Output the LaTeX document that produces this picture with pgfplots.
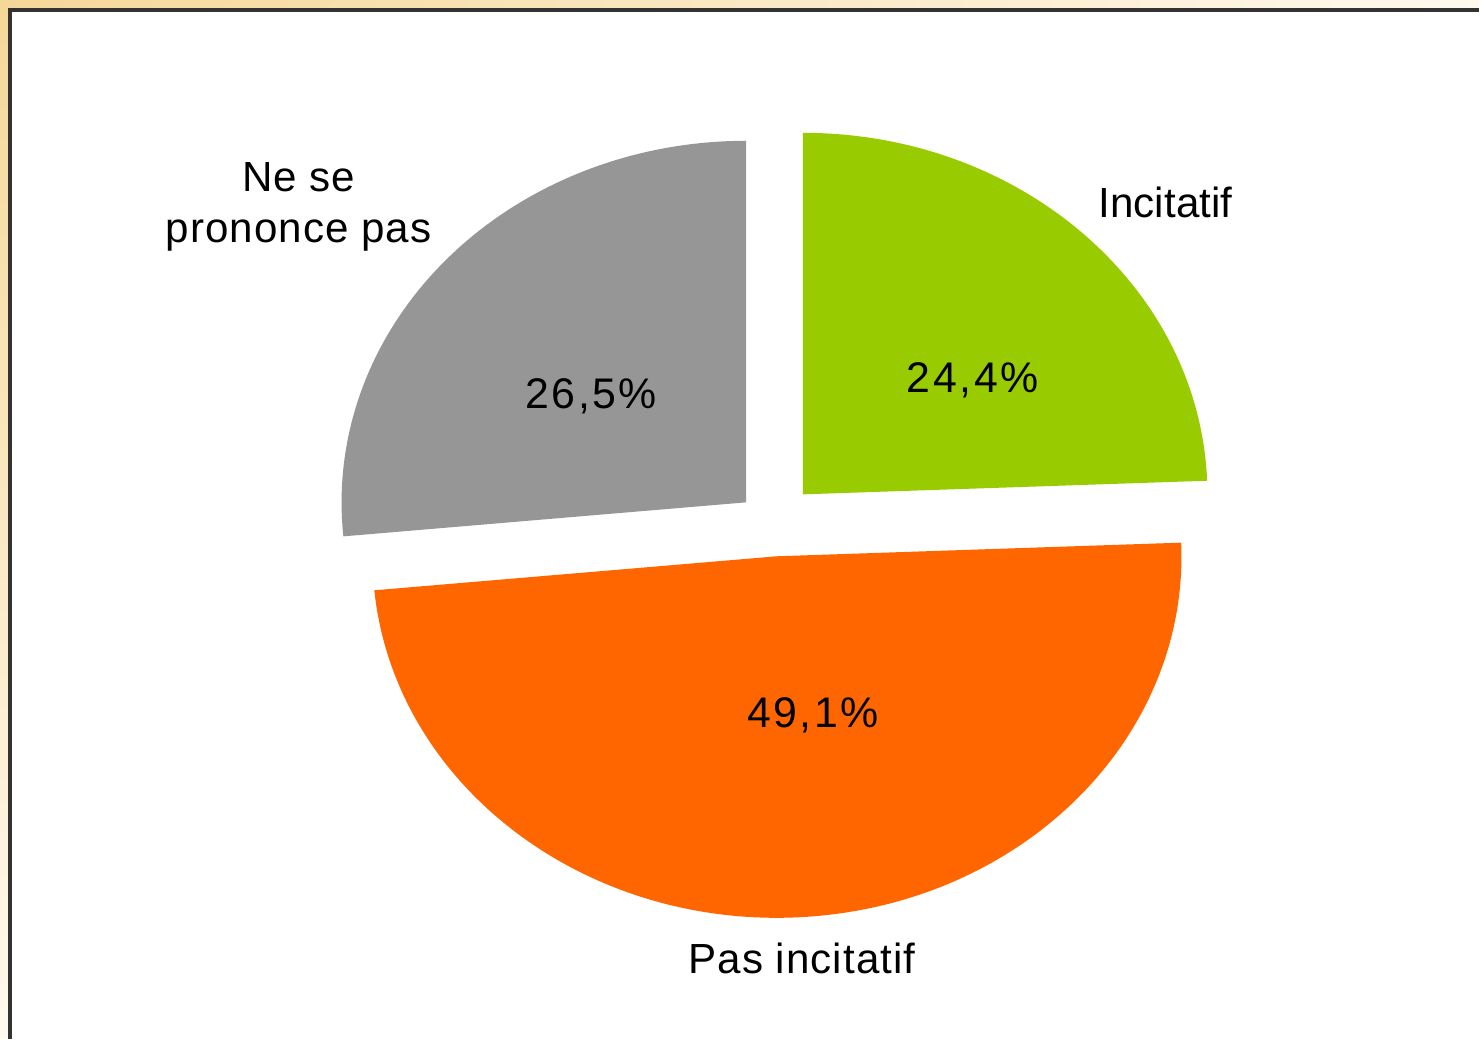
\documentclass[border=0pt]{standalone}
\usepackage{pgfplots}
\pgfplotsset{compat=1.18}
\usetikzlibrary{shadings}
\usepackage{fontspec}
\setmainfont{Liberation Sans}
\newfontfamily\spaced[LetterSpace=2.5]{Liberation Sans}
\newfontfamily\spacedN[LetterSpace=6]{Liberation Sans}
\definecolor{cgray}{HTML}{969696}
\definecolor{cgreen}{HTML}{99CC00}
\definecolor{corange}{HTML}{FF6600}
\definecolor{beigeA}{HTML}{F5D898}
\definecolor{beigeB}{HTML}{FFF9EE}
\definecolor{frame}{HTML}{333333}
% slice values (percent)
\def\vNSP{26.5}
\def\vPas{49.1}
\def\vInc{24.4}
\begin{document}
\begin{tikzpicture}
\begin{axis}[
  width=14.81cm, height=10.40cm, scale only axis,
  xmin=0, xmax=1481, ymin=0, ymax=1040, y dir=reverse,
  enlargelimits=false, hide axis, clip=false,
]
% background and frame
\shade[upper left=beigeA, upper right=beigeB, lower left=beigeB, lower right=white]
  (axis cs:0,0) rectangle (axis cs:1481,1040);
\fill[white] (axis cs:10,10) rectangle (axis cs:1481,1040);
\draw[frame, line width=1.1pt] (axis cs:10,1040) -- (axis cs:10,10) -- (axis cs:1481,10);
% angles from values
\pgfmathsetmacro{\aA}{90}
\pgfmathsetmacro{\aB}{\aA+\vNSP*3.6}
\pgfmathsetmacro{\aC}{\aB+\vPas*3.6}
\pgfmathsetmacro{\aD}{\aC+\vInc*3.6}
% Ne se prononce pas
\fill[cgray] (axis cs:747,503) -- +(\aA:4.05cm and 3.62cm)
  arc[start angle=\aA, end angle=\aB, x radius=4.05cm, y radius=3.62cm] -- cycle;
% Pas incitatif
\fill[corange] (axis cs:778,557) -- +(\aB:4.05cm and 3.62cm)
  arc[start angle=\aB, end angle=\aC, x radius=4.05cm, y radius=3.62cm] -- cycle;
% Incitatif
\fill[cgreen] (axis cs:804,495) -- +(\aC:4.05cm and 3.62cm)
  arc[start angle=\aC, end angle=\aD, x radius=4.05cm, y radius=3.62cm] -- cycle;
% labels
\node[font=\fontsize{12}{14.5}\selectfont\spaced, align=center] at (axis cs:299,207) {Ne se\\prononce pas};
\node[font=\fontsize{12}{14.5}\selectfont] at (axis cs:1167,203) {Incitatif};
\node[font=\fontsize{12}{14.5}\selectfont\spaced] at (axis cs:803,960) {Pas incitatif};
\node[font=\fontsize{12.2}{14.5}\selectfont\spacedN] at (axis cs:592,397) {26,5\%};
\node[font=\fontsize{12.2}{14.5}\selectfont\spacedN] at (axis cs:974,381) {24,4\%};
\node[font=\fontsize{12.2}{14.5}\selectfont\spacedN] at (axis cs:814,716) {49,1\%};
\end{axis}
\end{tikzpicture}
\end{document}
